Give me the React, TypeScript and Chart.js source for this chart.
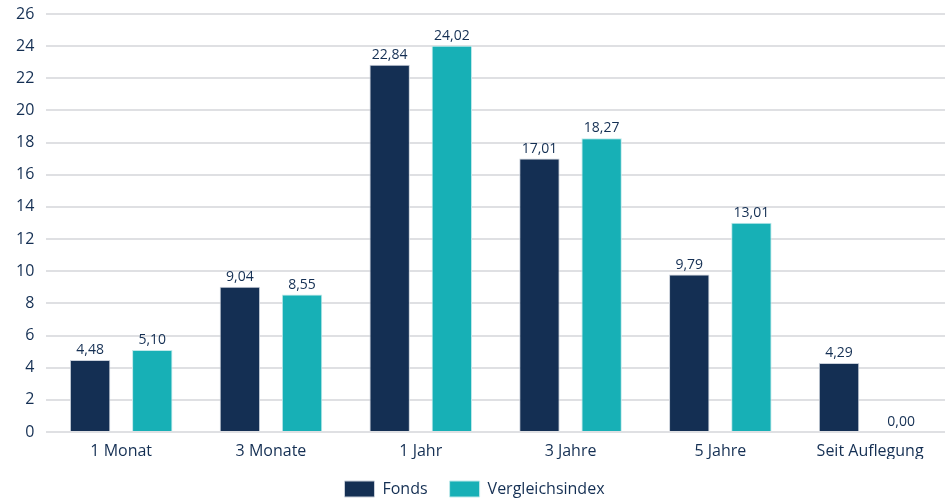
import React, { useEffect, useRef } from "react";
import { Chart, registerables } from "chart.js";

Chart.register(...registerables);

const categories = ["1 Monat", "3 Monate", "1 Jahr", "3 Jahre", "5 Jahre", "Seit Auflegung"];
const fondsValues = [4.48, 9.04, 22.84, 17.01, 9.79, 4.29];
const indexValues = [5.1, 8.55, 24.02, 18.27, 13.01, 0.0];
const seriesNames = ["Fonds", "Vergleichsindex"];

const NAVY = "#142f53";
const TEAL = "#17b0b6";
const FONT = "'Open Sans', 'Noto Sans', sans-serif";

const valueLabels = {
  id: "valueLabels",
  afterDatasetsDraw(chart: any) {
    const ctx = chart.ctx;
    ctx.save();
    ctx.font = `500 14px ${FONT}`;
    ctx.fillStyle = NAVY;
    ctx.textAlign = "center";
    ctx.textBaseline = "bottom";
    chart.data.datasets.forEach((ds: any, i: number) => {
      const meta = chart.getDatasetMeta(i);
      meta.data.forEach((bar: any, j: number) => {
        const v = ds.data[j] as number;
        const txt = v.toFixed(2).replace(".", ",");
        ctx.fillText(txt, bar.x, bar.y - 3);
      });
    });
    ctx.restore();
  },
};

const legendFit = {
  id: "legendFit",
  beforeLayout(chart: any) {
    const lg = chart.legend;
    if (lg && !lg._patched) {
      const orig = lg.fit;
      lg.fit = function () {
        orig.call(this);
        this.height = 40;
      };
      lg._patched = true;
    }
  },
};

export default function App() {
  const ref = useRef<HTMLCanvasElement>(null);
  useEffect(() => {
    document.body.style.margin = "0";
    const chart = new Chart(ref.current!, {
      type: "bar",
      data: {
        labels: categories,
        datasets: [
          {
            label: seriesNames[0],
            data: fondsValues,
            backgroundColor: NAVY,
            borderColor: "#c9d0da",
            borderWidth: 1,
            categoryPercentage: 0.83,
            barPercentage: 0.65,
          },
          {
            label: seriesNames[1],
            data: indexValues,
            backgroundColor: TEAL,
            borderColor: "#bfe9ea",
            borderWidth: 1,
            categoryPercentage: 0.83,
            barPercentage: 0.65,
          },
        ],
      },
      options: {
        responsive: false,
        animation: false,
        layout: { padding: { top: 14, right: 4, left: 4, bottom: 0 } },
        plugins: {
          legend: {
            position: "bottom",
            labels: {
              boxWidth: 30,
              boxHeight: 16,
              padding: 22,
              color: NAVY,
              font: { family: FONT, size: 16, weight: "500" },
            },
          },
          tooltip: { enabled: false },
        },
        scales: {
          x: {
            grid: { display: false, drawTicks: false },
            border: { display: false },
            ticks: { color: NAVY, font: { family: FONT, size: 16, weight: "500" }, padding: 10 },
            afterFit(scale: any) {
              scale.height = 27;
              scale.paddingTop = 0;
              scale.paddingBottom = 0;
            },
          },
          y: {
            min: 0,
            max: 26,
            ticks: { stepSize: 2, color: NAVY, font: { family: FONT, size: 16, weight: "500" }, padding: 12 },
            grid: { color: "#dfe0e3", lineWidth: 2, drawTicks: false },
            border: { display: false },
            afterFit(scale: any) {
              scale.paddingTop = 0;
              scale.paddingBottom = 0;
            },
          },
        },
      },
      plugins: [legendFit, valueLabels],
    });
    return () => chart.destroy();
  }, []);
  return (
    <div style={{ width: 949, height: 499 }}>
      <canvas ref={ref} width={949} height={499} />
    </div>
  );
}
